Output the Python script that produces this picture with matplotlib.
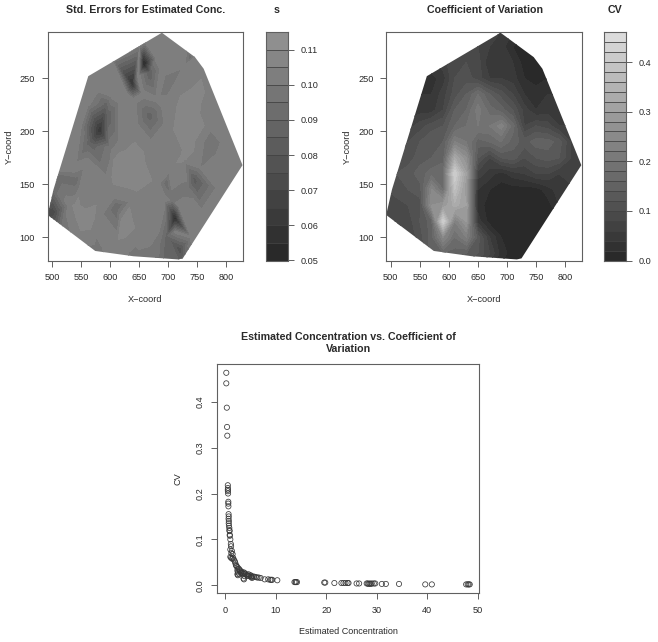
import numpy as np
import matplotlib
matplotlib.use("Agg")
import matplotlib.pyplot as plt
from matplotlib.patches import Polygon
from matplotlib.colors import ListedColormap, BoundaryNorm
from matplotlib.tri import Triangulation

plt.rcParams['font.family'] = ['Liberation Sans', 'DejaVu Sans']

# outline of the sampled region
hull_x = [492, 502, 562, 689, 746, 761, 828, 725, 717, 640, 574]
hull_y = [121, 145, 252, 293, 270, 259, 168, 80, 79, 82, 87]

# standard errors at scattered locations
s_x = [480, 480, 480, 560, 640, 720, 800, 850, 850, 850, 760, 690, 620, 560, 492, 502, 574, 640, 717,
       725, 828, 761, 746, 689, 562,
       658, 650, 668, 640, 638, 628, 648, 582, 570, 595, 593, 575, 600, 605, 562, 550, 668, 655, 680, 670,
       700, 695, 708, 737, 728, 748, 777, 770, 787, 745, 733, 755, 697, 692, 703, 712, 707, 718, 712, 697, 680, 720,
       740, 611, 604, 620, 542, 535, 550, 513, 505, 501, 515, 530, 540, 737, 725, 748, 648, 640, 655, 620, 612, 562, 555, 608,
       600, 640, 680, 640, 600, 560, 700, 760, 790, 800, 650, 620, 680, 720, 760, 580, 540, 660, 700, 620, 580, 660, 770, 560, 590, 690, 730]
s_y = [70, 180, 300, 300, 300, 300, 300, 250, 170, 70, 70, 70, 70, 70, 121, 145, 87, 82, 79,
       80, 168, 259, 270, 293, 252,
       264, 280, 255, 230, 245, 235, 252, 201, 185, 215, 226, 240, 185, 235, 189, 205, 214, 235, 230, 190,
       244, 225, 235, 269, 262, 280, 189, 210, 170, 154, 145, 165, 152, 135, 165, 118, 135, 130, 105, 101, 90, 88,
       100, 129, 140, 115, 154, 165, 145, 157, 165, 123, 110, 130, 130, 192, 175, 230, 173, 195, 160, 107, 95, 116, 130, 170,
       270, 205, 150, 135, 150, 170, 205, 225, 145, 190, 110, 230, 270, 180, 120, 120, 100, 95, 180, 185, 135, 285, 240, 225, 260, 260, 285]
s_v = [.09, .10, .104, .104, .104, .104, .104, .104, .104, .104, .104, .09, .104, .10, .070, .092, .098, .098, .085,
       .085, .104, .104, .100, .104, .104,
       .05, .100, .085, .103, .058, .102, .103, .060, .088, .085, .088, .103, .098, .104, .088, .100, .087, .103, .102, .101,
       .095, .104, .104, .092, .101, .104, .095, .104, .104, .082, .098, .100, .091, .104, .104, .055, .098, .102, .102, .088, .098, .076,
       .102, .090, .104, .107, .092, .104, .104, .092, .104, .070, .094, .104, .106, .108, .106, .107, .108, .104, .107, .108, .104, .108, .104, .107,
       .103, .104, .104, .104, .104, .104, .104, .104, .104, .104, .104, .104, .104, .104, .104, .103, .103, .102, .104, .104, .104, .103, .104, .102, .103, .104, .104]

# coefficient of variation on a regular lattice (values x 100, rows top to bottom)
cv_xs = [490, 510, 530, 550, 570, 590, 610, 630, 650, 670, 690, 710, 730, 750, 770, 790, 810, 830]
cv_ys = [295, 280, 265, 250, 235, 220, 205, 190, 175, 160, 145, 130, 115, 100, 85, 75]
cv_grid = [
    [5, 5, 5, 5, 5, 6, 7, 7, 7, 7, 6, 4, 3, 3, 3, 3, 3, 3],
    [5, 5, 5, 5, 5, 6, 8, 9, 8, 6, 5, 2, 1, 1, 1, 3, 3, 3],
    [5, 5, 5, 5, 6, 7, 10, 10, 9, 4, 5, 4, 1, 1, 1, 2, 3, 3],
    [4, 4, 4, 3, 3, 5, 10, 11, 9, 6, 6, 5, 2, 1, 2, 3, 3, 3],
    [4, 4, 4, 4, 4, 7, 11, 14, 18, 14, 11, 8, 4, 3, 4, 4, 4, 4],
    [5, 5, 5, 5, 5, 8, 14, 16, 21, 17, 15, 12, 7, 4, 5, 5, 4, 4],
    [6, 6, 7, 9, 11, 12, 16, 18, 20, 20, 23, 17, 8, 10, 9, 6, 6, 6],
    [9, 9, 10, 12, 14, 14, 22, 20, 15, 16, 18, 15, 13, 15, 15, 13, 8, 7],
    [10, 10, 11, 13, 14, 15, 32, 26, 12, 8, 12, 13, 10, 12, 13, 12, 8, 7],
    [12, 12, 13, 15, 17, 18, 42, 30, 7, 5, 3, 5, 6, 8, 8, 6, 8, 7],
    [10, 11, 12, 13, 24, 18, 38, 28, 4, 2, 1, 1, 1, 1, 3, 5, 5, 5],
    [9, 9, 10, 11, 26, 28, 33, 30, 3, 1, 1, 1, 1, 1, 1, 4, 4, 4],
    [8, 8, 9, 12, 15, 42, 22, 28, 5, 1, 1, 1, 1, 1, 1, 1, 1, 1],
    [8, 8, 8, 11, 15, 24, 18, 22, 13, 6, 2, 1, 1, 1, 1, 1, 1, 1],
    [8, 8, 8, 9, 16, 16, 15, 14, 12, 8, 3, 1, 1, 1, 1, 1, 1, 1],
    [8, 8, 8, 9, 14, 14, 13, 12, 10, 6, 2, 1, 1, 1, 1, 1, 1, 1],
]

# estimated concentration vs CV
conc = [.2, .2, .3, .35, .4, .5, .52, .5, .52, .55, .6, .6, .62, .65, .68, .65, .7, .68, .72,
        .8, .82, .85, .88, .9, 1.0, 1.1, 1.15, 1.0, 1.3, 1.2, 1.45, 1.0, 1.15, 1.35, 1.55, 1.7, 1.9, 2.0, 2.1, 2.2,
        2.4, 2.45, 2.4, 2.5, 2.4, 2.5, 2.7, 2.9, 3.0, 3.1, 2.8, 3.2, 3.4, 3.7, 3.6, 3.8, 3.6, 3.7, 3.9,
        4.1, 4.3, 4.5, 4.7, 4.6, 5.0, 5.2, 5.1, 5.4, 5.3, 5.7, 6.0, 6.3, 6.6, 7.0, 7.8, 8.5, 8.9, 9.1, 9.3, 10.3,
        13.7, 13.9, 14.0, 14.2, 19.6, 19.8, 21.6, 23.0, 23.4, 23.8, 24.2, 24.4, 26.0, 26.5,
        28.0, 28.2, 28.4, 28.6, 28.8, 29.0, 29.4, 29.7, 31.0, 31.8, 34.4, 39.6, 40.9, 47.7, 48.0, 48.2, 48.4]
cv = [.463, .44, .387, .345, .326, .218, .212, .208, .205, .2, .182, .178, .172, .155, .15, .145, .14, .135, .13,
      .125, .12, .118, .11, .108, .10, .09, .085, .078, .075, .07, .068, .062, .06, .058, .06, .056, .052, .048, .044, .042,
      .04, .036, .032, .028, .024, .022, .036, .033, .03, .027, .024, .03, .027, .028, .025, .02, .015, .013, .026,
      .024, .022, .021, .02, .024, .022, .02, .018, .019, .016, .019, .018, .017, .017, .016, .013, .013, .012, .012, .012, .011,
      .007, .007, .007, .007, .006, .006, .005, .005, .005, .005, .005, .005, .004, .004,
      .004, .004, .003, .004, .003, .004, .004, .004, .003, .003, .003, .002, .002, .002, .002, .002, .002]

s_levels = [.05 + .005 * i for i in range(14)]
cv_levels = [.02 * i for i in range(24)]

W, H = 658, 642
fig = plt.figure(figsize=(W / 100, H / 100), dpi=100)
TXT = '#2a2a2a'
EDGE = '#606060'
FS = 6.6


def add_ax(x0, y0, x1, y1):
    return fig.add_axes([x0 / W, 1 - y1 / H, (x1 - x0) / W, (y1 - y0) / H])


def style(ax, rotate):
    for sp in ax.spines.values():
        sp.set_color(EDGE)
        sp.set_linewidth(0.8)
    ax.tick_params(length=4, width=0.7, color=EDGE, labelsize=FS, labelcolor=TXT, pad=5)
    if rotate:
        for t in ax.get_yticklabels():
            t.set_rotation(90)
            t.set_va('center')


def gray_map(n, lo, hi):
    g = np.linspace(lo, hi, n)
    return ListedColormap([(v, v, v) for v in g])


def map_axes(x0, x1):
    ax = add_ax(x0, 32, x1, 260.5)
    ax.set_xlim(491.7, 829.7)
    ax.set_ylim(78, 293.7)
    ax.set_xticks([500, 550, 600, 650, 700, 750, 800])
    ax.set_yticks([100, 150, 200, 250])
    style(ax, False)
    ax.set_xlabel('X\u2212coord', fontsize=FS, color=TXT, va='center')
    ax.set_ylabel('Y\u2212coord', fontsize=FS, color=TXT, va='center')
    ax.xaxis.set_label_coords(0.5, -(300 - 260.5) / 228.5)
    ax.yaxis.set_label_coords(-38.5 / (x1 - x0), 0.5)
    return ax


def color_bar(x0, x1, levels, cmap, ticks, top, labels):
    ax = add_ax(x0, 32, x1, 260.5)
    lo = levels[:-1]
    hi = levels[1:]
    for i, (a, b) in enumerate(zip(lo, hi)):
        ax.barh(a, 1, height=b - a, left=0, align='edge', color=cmap(i),
                edgecolor='#3c3c3c', linewidth=0.5)
    ax.set_xlim(0, 1)
    ax.set_ylim(levels[0], top)
    ax.set_xticks([])
    ax.yaxis.tick_right()
    ax.set_yticks(ticks)
    ax.set_yticklabels(labels)
    for sp in ax.spines.values():
        sp.set_color(EDGE)
        sp.set_linewidth(0.8)
    ax.tick_params(length=4, width=0.7, color=EDGE, labelsize=FS, labelcolor=TXT, pad=5)
    return ax


hull = np.column_stack([hull_x, hull_y])

# --- left map
ax1 = map_axes(47.5, 243.5)
cm_s = gray_map(len(s_levels) - 1, 0.16, 0.56)
tri = Triangulation(s_x, s_y)
cs = ax1.tricontourf(tri, s_v, levels=s_levels, cmap=cm_s,
                     norm=BoundaryNorm(s_levels, len(s_levels) - 1), extend='both')
clip = Polygon(hull, transform=ax1.transData, fill=False, edgecolor='none')
ax1.add_patch(clip)
cs.set_clip_path(clip)
fig.text(146 / W, 1 - 10 / H, 'Std. Errors for Estimated Conc.', ha='center', va='center',
         fontsize=7.65, fontweight='bold', color=TXT)
fig.text(276.5 / W, 1 - 10 / H, 's', ha='center', va='center', fontsize=7.65, fontweight='bold', color=TXT)

color_bar(266, 288, s_levels, cm_s, [.05, .06, .07, .08, .09, .10, .11], .115,
          ['0.05', '0.06', '0.07', '0.08', '0.09', '0.10', '0.11'])

# --- right map
ax2 = map_axes(386, 582.3)
cm_cv = gray_map(len(cv_levels) - 1, 0.16, 0.86)
gx, gy = np.meshgrid(cv_xs, cv_ys)
vals = np.array(cv_grid) / 100.0
cs2 = ax2.contourf(gx, gy, vals, levels=cv_levels, cmap=cm_cv,
                   norm=BoundaryNorm(cv_levels, len(cv_levels) - 1), extend='both')
clip2 = Polygon(hull, transform=ax2.transData, fill=False, edgecolor='none')
ax2.add_patch(clip2)
cs2.set_clip_path(clip2)
fig.text(485 / W, 1 - 10 / H, 'Coefficient of Variation', ha='center', va='center',
         fontsize=7.65, fontweight='bold', color=TXT)
fig.text(615 / W, 1 - 10 / H, 'CV', ha='center', va='center', fontsize=7.65, fontweight='bold', color=TXT)

color_bar(604, 626, cv_levels, cm_cv, [0, .1, .2, .3, .4], .4605,
          ['0.0', '0.1', '0.2', '0.3', '0.4'])

# --- scatter
ax3 = add_ax(216.7, 364.3, 479.3, 593.3)
ax3.scatter(conc, cv, s=14, facecolors='none', edgecolors='#383838', linewidths=0.55)
ax3.set_xlim(-1.7, 50.3)
ax3.set_ylim(-0.0174, 0.4815)
ax3.set_xticks([0, 10, 20, 30, 40, 50])
ax3.set_yticks([0, .1, .2, .3, .4])
ax3.set_yticklabels(['0.0', '0.1', '0.2', '0.3', '0.4'])
style(ax3, True)
ax3.set_xlabel('Estimated Concentration', fontsize=FS - 0.15, color=TXT, va='center')
ax3.set_ylabel('CV', fontsize=FS, color=TXT, va='center')
ax3.xaxis.set_label_coords(0.5, -(632 - 593.3) / 229)
ax3.yaxis.set_label_coords(-(216.7 - 178) / 262.6, 0.5)
fig.text(348.5 / W, 1 - 342.5 / H, 'Estimated Concentration vs. Coefficient of\nVariation', ha='center', va='center',
         fontsize=7.65, fontweight='bold', color=TXT, linespacing=1.25)

fig.savefig('out.png', dpi=100)
